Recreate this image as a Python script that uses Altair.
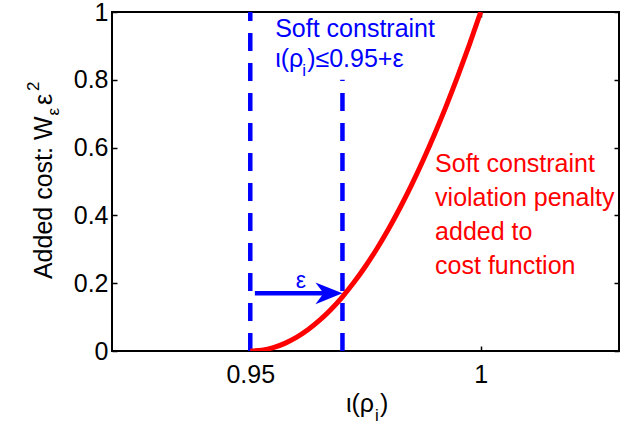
import altair as alt
import pandas as pd

FONT = "Liberation Sans"
BLUE = "#0000ff"
RED = "#ff0000"

# axis ranges
X_DOMAIN = [0.92, 1.03]
Y_DOMAIN = [0, 1]
X_TICKS = [0.95, 1.0]
Y_TICKS = [0, 0.2, 0.4, 0.6, 0.8, 1.0]

# penalty curve W*eps^2 sampled along iota(rho_i)
rho = [0.95, 0.9525, 0.955, 0.9575, 0.96, 0.9625, 0.965, 0.9675, 0.97, 0.9725, 0.975,
       0.9775, 0.98, 0.9825, 0.985, 0.9875, 0.99, 0.9925, 0.995, 0.9975, 1.0]
cost = [0.0, 0.0025, 0.01, 0.0225, 0.04, 0.0625, 0.09, 0.1225, 0.16, 0.2025, 0.25,
        0.3025, 0.36, 0.4225, 0.49, 0.5625, 0.64, 0.7225, 0.81, 0.9025, 1.0]

# hard limit and relaxed limit (dashed verticals)
bound_x = [0.95, 0.97]
bound_top = [1.0, 0.8]

# epsilon arrow
arrow_start = [0.951]
arrow_shaft_end = [0.966]
arrow_tip = [0.97]
arrow_level = [0.17]

# annotation anchors (data coordinates)
eps_label_at = [0.961, 0.186]
blue_note_x = [0.9554]
blue_note_y = [0.927, 0.8386]
red_note_at = [0.9901, 0.528]
red_note_lines = ["Soft constraint", "violation penalty", "added to", "cost function"]

W, H = 507, 339
FS = 25
xs = alt.Scale(domain=X_DOMAIN, nice=False, zero=False)
ys = alt.Scale(domain=Y_DOMAIN, nice=False, zero=False)


def xq(field, **kw):
    return alt.X(field, type="quantitative", scale=xs, axis=None, **kw)


def yq(field, **kw):
    return alt.Y(field, type="quantitative", scale=ys, axis=None, **kw)


curve_df = pd.DataFrame({"rho": rho, "cost": cost})
bounds_df = pd.DataFrame({"x": bound_x, "y0": [0.0, 0.0], "y1": bound_top})

# main axes: bottom and left, ticks pointing inward
axes_main = alt.Chart(curve_df).mark_point(opacity=0).encode(
    x=alt.X("rho:Q", scale=xs, axis=alt.Axis(
        orient="bottom", values=X_TICKS, format="~g", offset=-5, tickSize=5,
        tickWidth=1.5, tickColor="black", domain=False, grid=False,
        labelFontSize=FS, labelFont=FONT, labelColor="black", labelPadding=11,
        title=None)),
    y=alt.Y("cost:Q", scale=ys, axis=alt.Axis(
        orient="left", values=Y_TICKS, format="~g", offset=-5, tickSize=5,
        tickWidth=1.5, tickColor="black", domain=False, grid=False,
        labelFontSize=FS, labelFont=FONT, labelColor="black", labelPadding=4,
        title=None)),
)

# mirrored ticks on top and right
axes_mirror = alt.Chart(curve_df).mark_point(opacity=0).encode(
    x=alt.X("rho:Q", scale=xs, axis=alt.Axis(
        orient="top", values=X_TICKS, offset=-5, tickSize=5, tickWidth=1.5,
        tickColor="black", domain=False, grid=False, labels=False, title=None)),
    y=alt.Y("cost:Q", scale=ys, axis=alt.Axis(
        orient="right", values=Y_TICKS, offset=-5, tickSize=5, tickWidth=1.5,
        tickColor="black", domain=False, grid=False, labels=False, title=None)),
)

bounds = alt.Chart(bounds_df).mark_rule(
    color=BLUE, strokeWidth=4.5, strokeDash=[18, 12], strokeCap="butt"
).encode(x=xq("x"), y=yq("y0"), y2="y1")

curve = alt.Chart(curve_df).mark_line(
    color=RED, strokeWidth=5, interpolate="monotone", clip=True
).encode(x=xq("rho"), y=yq("cost"))

arrow_df = pd.DataFrame({"x0": arrow_start, "x1": arrow_shaft_end,
                         "tip": arrow_tip, "y": arrow_level})
shaft = alt.Chart(arrow_df).mark_rule(
    color=BLUE, strokeWidth=4.5, strokeCap="butt"
).encode(x=xq("x0"), x2="x1", y=yq("y"))
head = alt.Chart(arrow_df).mark_point(
    shape="M0,0 L-2,-0.8 L-1.4,0 L-2,0.8 Z", size=729, filled=True,
    color=BLUE, opacity=1, strokeWidth=0
).encode(x=xq("tip"), y=yq("y"))

eps_df = pd.DataFrame({"x": [eps_label_at[0]], "y": [eps_label_at[1]]})
eps_label = alt.Chart(eps_df).mark_text(
    text="ε", font=FONT, fontSize=23, color=BLUE, align="center", baseline="alphabetic"
).encode(x=xq("x"), y=yq("y"))

blue1_df = pd.DataFrame({"x": blue_note_x, "y": [blue_note_y[0]]})
blue_line1 = alt.Chart(blue1_df).mark_text(
    text="Soft constraint", font=FONT, fontSize=FS, color=BLUE, align="left",
    baseline="alphabetic"
).encode(x=xq("x"), y=yq("y"))

blue2_df = pd.DataFrame({"x": blue_note_x, "y": [blue_note_y[1]]})
blue_line2a = alt.Chart(blue2_df).mark_text(
    text="ι(ρ", font=FONT, fontSize=FS, color=BLUE, align="left", baseline="alphabetic"
).encode(x=xq("x"), y=yq("y"))
blue_line2b = alt.Chart(blue2_df).mark_text(
    text="i", font=FONT, fontSize=17, color=BLUE, align="left", baseline="alphabetic",
    dx=27, dy=9
).encode(x=xq("x"), y=yq("y"))
blue_line2c = alt.Chart(blue2_df).mark_text(
    text=")≤0.95+ε", font=FONT, fontSize=FS, color=BLUE, align="left",
    baseline="alphabetic", dx=32
).encode(x=xq("x"), y=yq("y"))

red_df = pd.DataFrame({"x": [red_note_at[0]], "y": [red_note_at[1]]})
red_note = alt.Chart(red_df).mark_text(
    text=red_note_lines, font=FONT, fontSize=FS, color=RED, align="left",
    baseline="alphabetic", lineHeight=34
).encode(x=xq("x"), y=yq("y"))

one = pd.DataFrame({"k": [0]})


def label(text, x, y, size=FS, align="left", angle=0):
    return alt.Chart(one).mark_text(
        text=text, font=FONT, fontSize=size, color="black", align=align,
        baseline="alphabetic", angle=angle
    ).encode(x=alt.value(x), y=alt.value(y))


# x-axis title: iota(rho_i)
x_title = [
    label("ι(ρ", 262, 400, align="right"),
    label("i", 263, 409, size=17),
    label(")", 268, 400),
]

# y-axis title: Added cost: W_eps eps^2 (rotated)
y_title = [
    label("Added cost: W", -60, 104.5, align="right", angle=270),
    label("ε", -53, 103.5, size=17, angle=270),
    label("ε", -60, 93, angle=270),
    label("2", -73, 79, size=17, angle=270),
]

chart = alt.layer(
    axes_main, axes_mirror, bounds, curve, shaft, head, eps_label,
    blue_line1, blue_line2a, blue_line2b, blue_line2c, red_note,
    *x_title, *y_title
).resolve_axis(x="independent", y="independent").properties(
    width=W, height=H,
    autosize=alt.AutoSizeParams(type="none"),
    padding={"left": 112, "top": 12, "right": 11, "bottom": 76},
    background="white",
).configure_view(stroke="black", strokeWidth=2)

chart.save("out.html", embed_options={"renderer": "svg", "actions": False})
